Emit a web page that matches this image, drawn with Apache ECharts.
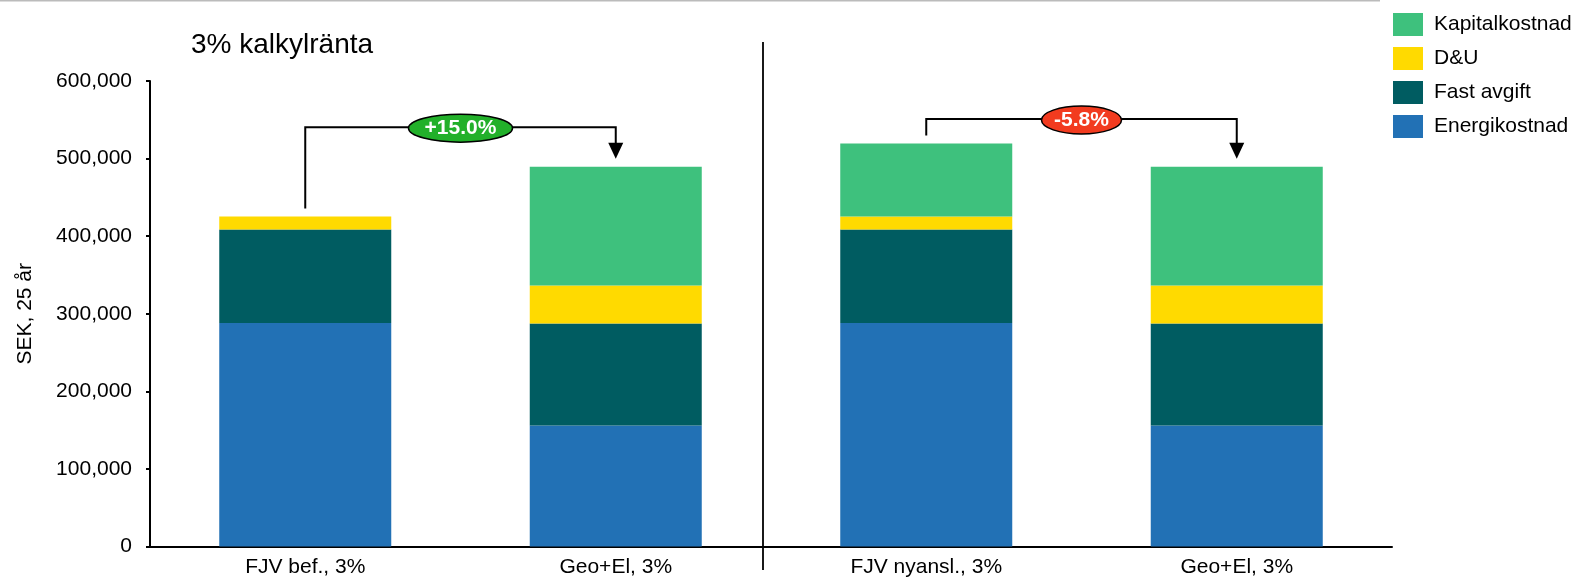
<!DOCTYPE html>
<html><head><meta charset="utf-8">
<script src="https://cdn.jsdelivr.net/npm/echarts@6/dist/echarts.min.js"></script>
<style>html,body{margin:0;padding:0;background:#fff}#c{width:1572px;height:579px}</style>
</head><body><div id="c"></div>
<script>
const categories = ['FJV bef., 3%', 'Geo+El, 3%', 'FJV nyansl., 3%', 'Geo+El, 3%'];
const energikostnad = [288000, 156000, 288000, 156000];
const fastAvgift = [120500, 131500, 120500, 131500];
const dou = [17000, 49000, 17000, 49000];
const kapitalkostnad = [0, 153000, 94000, 153000];
const yTicks = [0, 100000, 200000, 300000, 400000, 500000, 600000];
// comparisons: [from category, to category, bracket level value, label]
const compFrom = [0, 2];
const compTo = [1, 3];
const compLevel = [540500, 551000];
const compLabel = ['+15.0%', '-5.8%'];
const compColor = ['#22B02A', '#F23B1F'];
const compRx = [52, 40];

const FONT = '"Liberation Sans", Arial, sans-serif';
const chart = echarts.init(document.getElementById('c'), null, {renderer: 'canvas'});
const fmt = v => String(v).replace(/\B(?=(\d{3})+(?!\d))/g, ',');

chart.setOption({
  animation: false,
  textStyle: {fontFamily: FONT},
  title: {text: '3% kalkylränta', left: 186, top: 26,
    textStyle: {fontSize: 28, fontWeight: 'normal', color: '#000', fontFamily: FONT}},
  legend: {orient: 'vertical', left: 1388, top: 8, itemWidth: 30, itemHeight: 23, itemGap: 11,
    icon: 'rect', data: ['Kapitalkostnad', 'D&U', 'Fast avgift', 'Energikostnad'],
    textStyle: {fontSize: 21, color: '#000', fontFamily: FONT, padding: [0, 0, 0, 6]}},
  grid: {left: 150, width: 1242, top: 81, bottom: 32.5, containLabel: false},
  xAxis: {type: 'category', data: categories,
    axisLine: {show: true, lineStyle: {color: '#000', width: 2}},
    axisTick: {show: false},
    axisLabel: {fontSize: 21, color: '#000', margin: 10, fontFamily: FONT, interval: 0}},
  yAxis: {type: 'value', min: yTicks[0], max: yTicks[yTicks.length - 1], interval: yTicks[1] - yTicks[0],
    name: 'SEK, 25 år', nameLocation: 'middle', nameGap: 114, nameRotate: 90,
    nameTextStyle: {fontSize: 21, color: '#000', fontFamily: FONT},
    axisLine: {show: true, lineStyle: {color: '#000', width: 2}},
    axisTick: {show: true, length: 4, lineStyle: {color: '#000', width: 2}},
    splitLine: {show: false},
    axisLabel: {fontSize: 21, color: '#000', margin: 18, fontFamily: FONT, formatter: v => fmt(v)}},
  series: [
    {name: 'Energikostnad', type: 'bar', stack: 'a', data: energikostnad, barWidth: 172, itemStyle: {color: '#2271B5'}},
    {name: 'Fast avgift', type: 'bar', stack: 'a', data: fastAvgift, itemStyle: {color: '#005C61'}},
    {name: 'D&U', type: 'bar', stack: 'a', data: dou, itemStyle: {color: '#FFDA00'}},
    {name: 'Kapitalkostnad', type: 'bar', stack: 'a', data: kapitalkostnad, itemStyle: {color: '#3EC17D'}}
  ]
});

function total(i) { return energikostnad[i] + fastAvgift[i] + dou[i] + kapitalkostnad[i]; }
const px = (i, v) => chart.convertToPixel({xAxisIndex: 0, yAxisIndex: 0}, [i, v]);

const g = [];
g.push({type: 'line', shape: {x1: 0, y1: 0.75, x2: 1380, y2: 0.75}, style: {stroke: '#BBBBBB', lineWidth: 1.5}, silent: true});
g.push({type: 'line', shape: {x1: 763, y1: 42, x2: 763, y2: 570}, style: {stroke: '#000', lineWidth: 1.8}, silent: true});

for (let k = 0; k < compFrom.length; k++) {
  const a = px(compFrom[k], total(compFrom[k]));
  const b = px(compTo[k], total(compTo[k]));
  const lv = px(compFrom[k], compLevel[k])[1];
  const ay = a[1] - 8, by = b[1] - 8;
  g.push({type: 'polyline', shape: {points: [[a[0], ay], [a[0], lv], [b[0], lv], [b[0], by - 14]]},
    style: {stroke: '#000', lineWidth: 2, fill: null}, silent: true});
  g.push({type: 'polygon', shape: {points: [[b[0] - 7.5, by - 16], [b[0] + 7.5, by - 16], [b[0], by]]},
    style: {fill: '#000'}, silent: true});
  const cx = (a[0] + b[0]) / 2;
  g.push({type: 'ellipse', shape: {cx: cx, cy: lv + 1, rx: compRx[k], ry: 14},
    style: {fill: compColor[k], stroke: '#000', lineWidth: 1.5}, silent: true, z: 10});
  g.push({type: 'text', x: cx, y: lv + 1, z: 11, silent: true,
    style: {text: compLabel[k], fill: '#fff', font: 'bold 21px ' + FONT, textAlign: 'center', textVerticalAlign: 'middle'}});
}
chart.setOption({graphic: g});
</script></body></html>
